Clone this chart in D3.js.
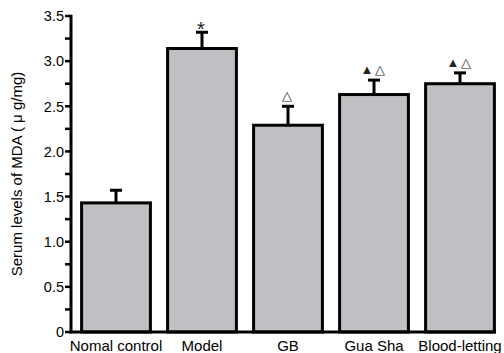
<!DOCTYPE html>
<html>
<head>
<meta charset="utf-8">
<script src="https://cdn.jsdelivr.net/npm/d3@7"></script>
<style>
  body { margin: 0; background: #fff; }
  text { font-family: "Liberation Sans", Arial, sans-serif; }
</style>
</head>
<body>
<script>
"use strict";

var groups = ["Nomal control", "Model", "GB", "Gua Sha", "Blood-letting"];
var means = [1.43, 3.14, 2.29, 2.63, 2.75];
var errors = [0.14, 0.18, 0.21, 0.16, 0.12];
var marks = ["", "*", "\u25b3", "\u25b2\u25b3", "\u25b2\u25b3"];
var yTicks = [0, 0.5, 1.0, 1.5, 2.0, 2.5, 3.0, 3.5];
var yMinor = d3.range(0, 3.51, 0.25);

var width = 504, height = 353;
var margin = { top: 16, right: 1, bottom: 21, left: 71 };

var svg = d3.select("body")
  .append("svg")
  .attr("width", width)
  .attr("height", height);

var x = d3.scaleBand()
  .domain(groups)
  .range([73, 503])
  .paddingInner(0.2)
  .paddingOuter(0.1);

var y = d3.scaleLinear()
  .domain([0, 3.5])
  .range([height - margin.bottom, margin.top]);

function cx(i) { return x(groups[i]) + x.bandwidth() / 2; }

// bars
svg.selectAll("rect.bar")
  .data(means)
  .enter()
  .append("rect")
  .attr("class", "bar")
  .attr("x", function (d, i) { return x(groups[i]); })
  .attr("y", function (d) { return y(d); })
  .attr("width", x.bandwidth())
  .attr("height", function (d) { return y(0) - y(d); })
  .attr("fill", "#c1bfc3")
  .attr("stroke", "#000")
  .attr("stroke-width", 3);

// error bars
var err = svg.selectAll("g.err")
  .data(means)
  .enter()
  .append("g")
  .attr("class", "err");

err.append("line")
  .attr("x1", function (d, i) { return cx(i); })
  .attr("x2", function (d, i) { return cx(i); })
  .attr("y1", function (d) { return y(d); })
  .attr("y2", function (d, i) { return y(d + errors[i]); })
  .attr("stroke", "#000")
  .attr("stroke-width", 3);

err.append("line")
  .attr("x1", function (d, i) { return cx(i) - 6; })
  .attr("x2", function (d, i) { return cx(i) + 6; })
  .attr("y1", function (d, i) { return y(d + errors[i]); })
  .attr("y2", function (d, i) { return y(d + errors[i]); })
  .attr("stroke", "#000")
  .attr("stroke-width", 3);

// significance marks
svg.selectAll("text.mark")
  .data(means)
  .enter()
  .append("text")
  .attr("class", "mark")
  .attr("x", function (d, i) { return cx(i); })
  .attr("y", function (d, i) { return y(d + errors[i]) - (i === 1 ? 2 : 6); })
  .attr("text-anchor", "middle")
  .attr("font-size", function (d, i) { return i === 1 ? 20 : 13; })
  .attr("letter-spacing", 2)
  .attr("fill", "#222")
  .attr("dy", function (d, i) { return i === 1 ? "0.3em" : "0"; })
  .text(function (d, i) { return marks[i]; });

// y axis
var yAxis = svg.append("g")
  .attr("transform", "translate(" + margin.left + ",0)");

yAxis.selectAll("line.minor")
  .data(yMinor)
  .enter()
  .append("line")
  .attr("x1", -6)
  .attr("x2", 0)
  .attr("y1", function (d) { return y(d); })
  .attr("y2", function (d) { return y(d); })
  .attr("stroke", "#000")
  .attr("stroke-width", 2.5);

yAxis.append("line")
  .attr("x1", 0).attr("x2", 0)
  .attr("y1", y(3.5) - 1.25).attr("y2", y(0) + 1.5)
  .attr("stroke", "#000")
  .attr("stroke-width", 3);

yAxis.selectAll("text.tick")
  .data(yTicks)
  .enter()
  .append("text")
  .attr("class", "tick")
  .attr("x", -7)
  .attr("y", function (d) { return y(d); })
  .attr("dy", "0.36em")
  .attr("text-anchor", "end")
  .attr("font-size", 14.5)
  .text(function (d) { return d === 0 ? "0" : d3.format(".1f")(d); });

// x axis baseline
svg.append("line")
  .attr("x1", margin.left - 1.5)
  .attr("x2", x(groups[4]) + x.bandwidth() + 1.5)
  .attr("y1", y(0))
  .attr("y2", y(0))
  .attr("stroke", "#000")
  .attr("stroke-width", 3);

svg.selectAll("text.xlab")
  .data(groups)
  .enter()
  .append("text")
  .attr("class", "xlab")
  .attr("x", function (d, i) { return cx(i); })
  .attr("y", height - 2)
  .attr("text-anchor", "middle")
  .attr("font-size", 15)
  .text(function (d) { return d; })
  .each(function () {
    // keep the last label inside the frame
    var box = this.getBBox();
    if (box.x + box.width > width - 1) {
      d3.select(this).attr("x", width - 1).attr("text-anchor", "end");
    }
  });

// y label
svg.append("text")
  .attr("transform", "translate(22," + ((y(0) + y(3.5)) / 2) + ") rotate(-90)")
  .attr("text-anchor", "middle")
  .attr("font-size", 15)
  .text("Serum levels of MDA ( \u03bc g/mg)");
</script>
</body>
</html>
